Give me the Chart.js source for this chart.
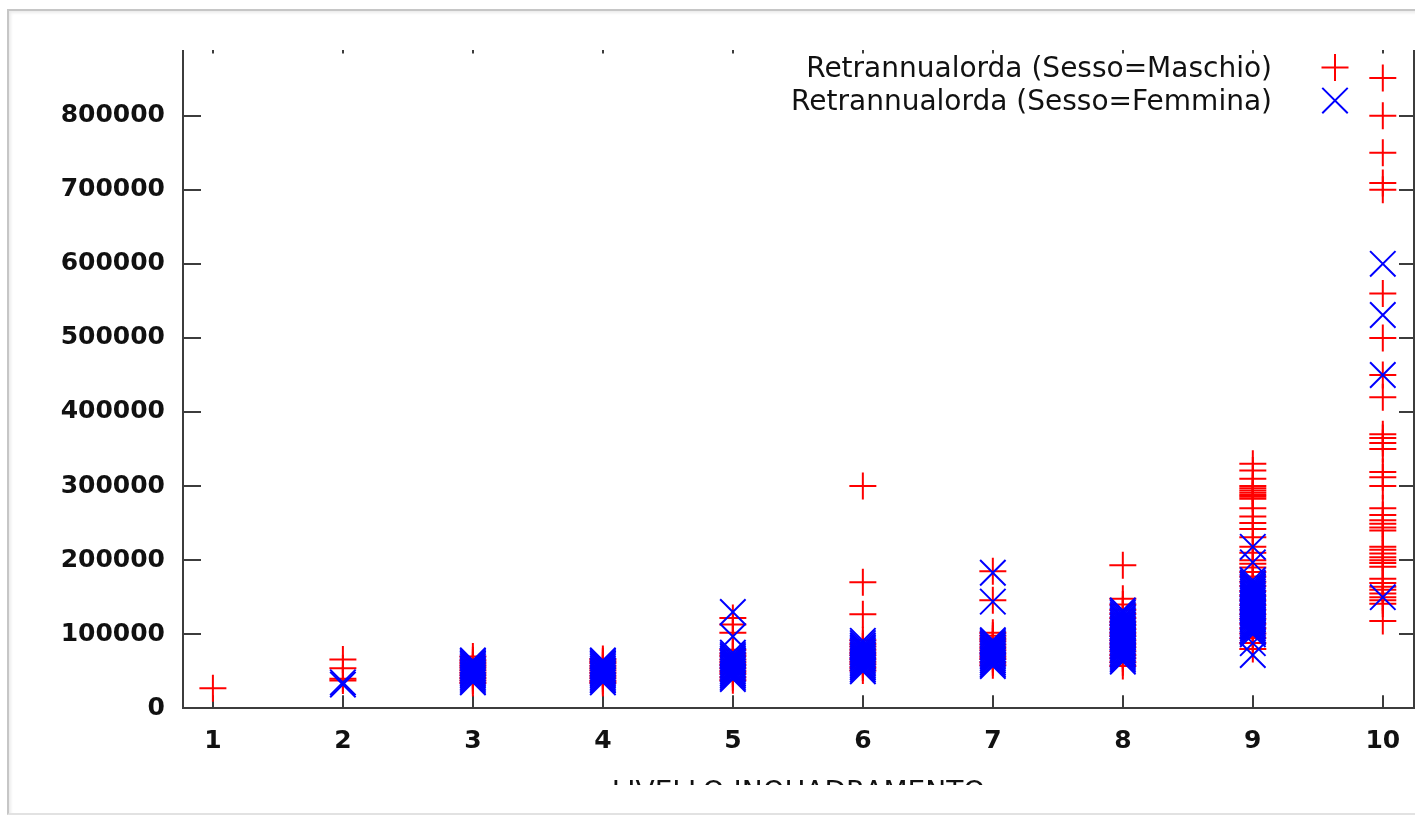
<!DOCTYPE html>
<html>
<head>
<meta charset="utf-8">
<script src="https://cdn.jsdelivr.net/npm/chart.js@4/dist/chart.umd.min.js"></script>
<style>
  html, body { margin: 0; padding: 0; background: #ffffff; width: 1415px; height: 815px; overflow: hidden; }
  #frame { position: absolute; left: 7px; top: 9px; width: 1420px; height: 802px;
           border-left: 2px solid #c6c6c6; border-top: 2px solid #c6c6c6; border-bottom: 2px solid #e2e2e2;
           box-shadow: inset 2px 2px 3px rgba(0,0,0,0.08); }
  #clip { position: absolute; left: 0; top: 50px; width: 1415px; height: 735px; overflow: hidden; }
  #c { position: absolute; left: 0; top: -50px; }
</style>
</head>
<body>
<div id="frame"></div>
<div id="clip"><canvas id="c" width="1415" height="815"></canvas></div>
<script>
// ---- data ----
const levels = [1, 2, 3, 4, 5, 6, 7, 8, 9, 10];
const levelLabels = ['1', '2', '3', '4', '5', '6', '7', '8', '9', '10'];
const yTickValues = [0, 100000, 200000, 300000, 400000, 500000, 600000, 700000, 800000, 900000];
const seriesLabels = ['Retrannualorda (Sesso=Maschio)', 'Retrannualorda (Sesso=Femmina)'];
const xTitle = 'LIVELLO INQUADRAMENTO';

// Maschio (red +), one array per livello
const M1 = [27000];
const M2 = [66000, 54000, 40000, 37500];
const M3 = [34000, 37500, 41000, 44500, 48000, 51500, 55000, 58000, 61500, 65000, 70000];
const M4 = [34000, 37000, 40500, 44000, 47500, 51000, 54000, 57500, 61000, 63500, 66500];
const M5 = [38000, 42000, 46500, 50000, 54000, 58500, 62000, 66000, 70500, 74000, 79000, 102000, 113000, 122000];
const M6 = [51000, 55000, 59500, 63000, 67000, 71500, 75000, 79000, 83500, 87000, 92000, 127000, 170000, 300000];
const M7 = [58000, 62000, 66500, 70000, 74000, 78500, 82000, 86000, 90500, 94000, 98000, 102000, 146000, 185000];
const M8 = [57000, 62000, 67500, 72000, 77000, 82500, 87000, 92000, 97500, 102000, 107000, 112500, 117000, 122000, 127500, 133000, 140000, 148000, 193000];
const M9 = [80000, 88000, 95000, 101000, 108000, 114000, 121000, 127000, 133000, 139500, 146000, 152000, 158500, 165000, 171000, 178000, 184000, 190000, 195000, 200000, 210000, 218000, 231000, 242000, 250000, 259000, 270000, 283000, 285500, 288000, 291000, 294000, 297000, 300000, 310000, 321000, 330000];
const M10 = [851000, 800000, 750000, 709000, 700000, 560000, 500000, 450000, 420000, 370000, 365000, 358000, 350000, 319000, 312000, 300000, 270000, 261000, 254000, 249000, 244000, 240000, 218000, 214000, 209000, 204000, 200000, 196000, 191000, 175000, 169000, 164000, 160000, 155000, 150000, 146000, 141000, 118000];

// Femmina (blue x), one array per livello
const F1 = [];
const F2 = [35000, 32000];
const F3 = [35000, 37000, 39500, 42000, 44500, 46500, 49000, 51500, 53500, 56000, 58500, 60500, 62500, 64500];
const F4 = [35000, 37500, 39500, 42000, 44500, 46500, 49000, 51000, 53500, 56000, 58500, 60500, 62500, 64500];
const F5 = [39500, 42000, 44500, 47000, 49500, 52000, 54500, 57000, 59500, 62000, 64500, 67000, 69500, 72000, 75000, 97000, 130000];
const F6 = [50000, 52500, 55000, 57500, 60000, 62500, 65000, 67500, 70000, 72500, 75000, 77500, 80000, 82500, 85000, 88000, 91000];
const F7 = [57000, 59500, 62000, 64500, 67000, 69500, 72000, 74500, 77000, 79500, 82000, 84500, 87000, 89500, 92000, 144000, 183000];
const F8 = [63000, 65500, 68000, 70500, 73000, 75500, 78000, 80500, 83000, 85500, 88000, 90500, 93000, 95500, 98000, 100500, 103000, 105500, 108000, 110500, 113000, 115500, 118000, 120500, 123000, 126000, 129000, 132000];
const F9 = [72000, 88000, 100000, 102500, 105000, 107500, 110000, 112500, 115000, 117500, 120000, 122500, 125000, 127500, 130000, 132500, 135000, 137500, 140000, 142500, 145000, 147500, 150000, 152500, 155000, 157500, 160000, 162500, 165000, 167500, 170000, 173000, 197000, 218000];
const F10 = [600000, 531000, 450000, 150000];

const maschioByLevel = [M1, M2, M3, M4, M5, M6, M7, M8, M9, M10];
const femminaByLevel = [F1, F2, F3, F4, F5, F6, F7, F8, F9, F10];

function toPoints(groups) {
  const pts = [];
  groups.forEach((vals, i) => vals.forEach(v => pts.push({ x: levels[i], y: v })));
  return pts;
}

// ---- gnuplot-style legend inside the plot, text right-aligned before the sample ----
const gnuLegend = {
  id: 'gnuLegend',
  afterDatasetsDraw(chart) {
    const ctx = chart.ctx;
    const area = chart.chartArea;
    ctx.save();
    chart.data.datasets.forEach((ds, i) => {
      const y = area.top + 27 + i * 33;
      ctx.font = '28px "DejaVu Sans"';
      ctx.fillStyle = '#111111';
      ctx.textAlign = 'right';
      ctx.textBaseline = 'middle';
      ctx.fillText(ds.label, area.right - 142, y + 1);
      ctx.strokeStyle = ds.borderColor;
      ctx.fillStyle = ds.borderColor;
      ctx.lineWidth = ds.pointBorderWidth;
      Chart.helpers.drawPoint(ctx, { pointStyle: ds.pointStyle, radius: ds.pointRadius, rotation: 0, borderWidth: ds.pointBorderWidth }, area.right - 79, y - 1);
    });
    ctx.restore();
  }
};

const axisColor = '#3c3c3c';
const tickFont = { family: 'DejaVu Sans', size: 25, weight: 'bold' };
const setTicks = (vals) => (scale) => { scale.ticks = vals.map(v => ({ value: v })); };
const noPad = (s) => { s.paddingTop = 0; s.paddingBottom = 0; s.paddingLeft = 0; s.paddingRight = 0; };

new Chart(document.getElementById('c'), {
  type: 'scatter',
  data: {
    datasets: [
      { label: seriesLabels[0], data: toPoints(maschioByLevel), pointStyle: 'cross', pointRadius: 13.5, pointHoverRadius: 13.5,
        borderColor: '#ff0000', backgroundColor: '#ff0000', pointBorderWidth: 2, order: 2, xAxisID: 'x', yAxisID: 'y' },
      { label: seriesLabels[1], data: toPoints(femminaByLevel), pointStyle: 'crossRot', pointRadius: 18, pointHoverRadius: 18,
        borderColor: '#0000ff', backgroundColor: '#0000ff', pointBorderWidth: 2, order: 1, xAxisID: 'x', yAxisID: 'y' }
    ]
  },
  options: {
    responsive: false,
    animation: false,
    devicePixelRatio: 1,
    layout: { autoPadding: false, padding: { top: 41.6, right: 0, left: 0, bottom: 0 } },
    plugins: { legend: { display: false }, tooltip: { enabled: false } },
    scales: {
      x: {
        type: 'linear', position: 'bottom', min: 0.77, max: 10.24,
        afterBuildTicks: setTicks(levels),
        afterFit: (s) => { s.height = 815 - 708.3; noPad(s); },
        ticks: { autoSkip: false, padding: 31, color: '#111111', font: tickFont,
                 callback: (v) => levelLabels[levels.indexOf(v)] },
        grid: { display: true, drawOnChartArea: false, drawTicks: true, tickLength: -13, color: axisColor, lineWidth: 2 },
        border: { display: true, color: axisColor, width: 2 },
        title: { display: true, text: xTitle, color: '#111111', font: { family: 'DejaVu Sans', size: 28 }, padding: { top: 0, bottom: 4 } }
      },
      x2: {
        type: 'linear', position: 'top', min: 0.77, max: 10.24,
        afterBuildTicks: setTicks(levels),
        afterFit: (s) => { s.height = 0; noPad(s); },
        ticks: { display: false },
        grid: { display: true, drawOnChartArea: false, drawTicks: true, tickLength: -12, color: axisColor, lineWidth: 2 },
        border: { display: true, color: axisColor, width: 2 }
      },
      y: {
        type: 'linear', position: 'left', min: 0, max: 900000,
        afterBuildTicks: setTicks(yTickValues),
        afterFit: (s) => { s.width = 183; noPad(s); },
        ticks: { autoSkip: false, padding: 36, color: '#111111', font: tickFont, callback: (v) => String(v) },
        grid: { display: true, drawOnChartArea: false, drawTicks: true, tickLength: -18, color: axisColor, lineWidth: 2 },
        border: { display: true, color: axisColor, width: 2 }
      },
      y2: {
        type: 'linear', position: 'right', min: 0, max: 900000,
        afterBuildTicks: setTicks(yTickValues),
        afterFit: (s) => { s.width = 1; noPad(s); },
        ticks: { display: false },
        grid: { display: true, drawOnChartArea: false, drawTicks: true, tickLength: -15, color: axisColor, lineWidth: 2 },
        border: { display: true, color: axisColor, width: 2 }
      }
    }
  },
  plugins: [gnuLegend]
});
</script>
</body>
</html>
